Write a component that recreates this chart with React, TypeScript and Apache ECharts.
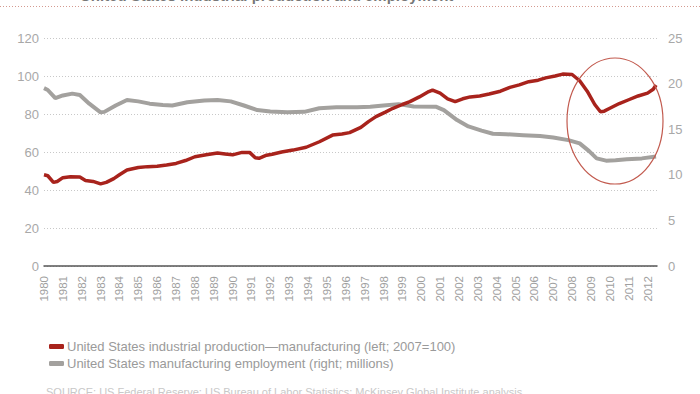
import React, { useEffect, useRef } from "react";
import * as echarts from "echarts";

// Industrial production — manufacturing (left axis, 2007 = 100)
const ipYears = [
  1980.0, 1980.2, 1980.5, 1980.7, 1981.0, 1981.4, 1981.9, 1982.2, 1982.6, 1983.0,
  1983.3, 1983.7, 1984.0, 1984.4, 1985.0, 1985.5, 1986.0, 1986.5, 1987.0, 1987.5,
  1988.0, 1988.6, 1989.2, 1989.6, 1990.0, 1990.5, 1990.9, 1991.2, 1991.4, 1991.8,
  1992.1, 1992.6, 1993.2, 1993.9, 1994.6, 1995.3, 1995.8, 1996.2, 1996.8, 1997.2,
  1997.6, 1998.1, 1998.5, 1999.0, 1999.4, 1999.9, 2000.4, 2000.6, 2001.0, 2001.4,
  2001.8, 2002.2, 2002.6, 2003.1, 2003.6, 2004.2, 2004.7, 2005.2, 2005.7, 2006.2,
  2006.6, 2007.1, 2007.5, 2008.0, 2008.4, 2008.8, 2009.2, 2009.5, 2009.7, 2010.0,
  2010.5, 2011.0, 2011.5, 2012.0, 2012.3, 2012.45,
];
const ipValues = [
  48, 47.5, 44, 44.5, 46.5, 47, 46.8, 45, 44.5, 43.2,
  44, 46, 48, 50.5, 51.8, 52.3, 52.5, 53.2, 54, 55.5,
  57.5, 58.5, 59.5, 59, 58.5, 59.8, 59.8, 57, 56.7, 58.3,
  58.8, 60, 61, 62.5, 65.4, 68.9, 69.5, 70.2, 73, 76,
  78.6, 81, 83, 85, 86.5, 89, 91.8, 92.6, 91, 88,
  86.5, 88, 89, 89.5, 90.5, 92, 94, 95.3, 97, 97.8,
  99, 100, 101, 100.8, 97.5, 92, 85, 81.2, 81.5, 83,
  85.5, 87.5, 89.5, 91, 93, 95.3,
];

// Manufacturing employment (right axis, millions)
const empYears = [
  1980.0, 1980.2, 1980.6, 1981.0, 1981.5, 1981.9, 1982.4, 1983.0, 1983.2, 1983.8,
  1984.4, 1985.0, 1985.6, 1986.3, 1986.8, 1987.6, 1988.5, 1989.2, 1989.9, 1990.6,
  1991.3, 1992.0, 1992.9, 1993.8, 1994.6, 1995.5, 1996.6, 1997.3, 1998.0, 1998.8,
  1999.6, 2000.8, 2001.2, 2001.9, 2002.5, 2003.2, 2003.8, 2004.5, 2005.4, 2006.3,
  2007.0, 2007.8, 2008.4, 2008.9, 2009.3, 2009.8, 2010.3, 2010.9, 2011.7, 2012.45,
];
const empValues = [
  19.5, 19.3, 18.4, 18.7, 18.9, 18.75, 17.8, 16.85, 16.9, 17.6,
  18.2, 18.05, 17.8, 17.65, 17.6, 17.95, 18.15, 18.2, 18.05, 17.6,
  17.1, 16.95, 16.85, 16.9, 17.3, 17.4, 17.4, 17.45, 17.6, 17.75,
  17.5, 17.45, 17.1, 16.0, 15.3, 14.85, 14.5, 14.45, 14.35, 14.25,
  14.1, 13.8, 13.45, 12.6, 11.8, 11.55, 11.6, 11.7, 11.8, 12.0,
];

const title = "United States industrial production and employment";
const ipName = "United States industrial production\u2014manufacturing (left; 2007=100)";
const empName = "United States manufacturing employment (right; millions)";
const sourceText = "SOURCE: US Federal Reserve; US Bureau of Labor Statistics; McKinsey Global Institute analysis";

const FONT = "'Liberation Sans', Arial, Helvetica, sans-serif";

export default function App() {
  const ref = useRef<HTMLDivElement>(null);

  useEffect(() => {
    if (!ref.current) return;
    const chart = echarts.init(ref.current, null, { renderer: "svg" });
    chart.setOption({
      animation: false,
      backgroundColor: "#ffffff",
      textStyle: { fontFamily: FONT },
      grid: { left: 44, right: 43, top: 38, bottom: 128, containLabel: false },
      xAxis: {
        type: "value",
        min: 1980,
        max: 2012.5,
        interval: 1,
        axisLine: { show: true, onZero: false, lineStyle: { color: "#555555", width: 1.5 } },
        axisTick: { show: false },
        splitLine: { show: false },
        axisLabel: {
          rotate: 90,
          margin: 10,
          color: "#a0a0a0",
          fontSize: 11.5,
          fontFamily: FONT,
          formatter: (v: number) => (Number.isInteger(v) ? String(v) : ""),
        },
      },
      yAxis: [
        {
          type: "value",
          min: 0,
          max: 120,
          interval: 20,
          axisLine: { show: false },
          axisTick: { show: false },
          axisLabel: { color: "#a8a8a8", fontSize: 13, margin: 5, fontFamily: FONT },
          splitLine: { show: true, lineStyle: { color: "#c8c8c8", type: [1, 2], width: 1 } },
        },
        {
          type: "value",
          min: 0,
          max: 25,
          interval: 5,
          position: "right",
          axisLine: { show: false },
          axisTick: { show: false },
          axisLabel: { color: "#a8a8a8", fontSize: 13, margin: 11, fontFamily: FONT },
          splitLine: { show: false },
        },
      ],
      legend: {
        orient: "vertical",
        left: 44,
        top: 335,
        itemWidth: 15,
        itemHeight: 5,
        itemGap: 4,
        icon: "roundRect",
        textStyle: { color: "#9a9a9a", fontSize: 13, fontFamily: FONT, padding: [0, 0, 0, -2] },
        data: [ipName, empName],
      },
      series: [
        {
          name: empName,
          type: "line",
          yAxisIndex: 1,
          showSymbol: false,
          smooth: false,
          color: "#a3a19e",
          lineStyle: { color: "#a3a19e", width: 4 },
          data: empYears.map((y, i) => [y, empValues[i]]),
          z: 2,
        },
        {
          name: ipName,
          type: "line",
          yAxisIndex: 0,
          showSymbol: false,
          smooth: false,
          color: "#a8231c",
          lineStyle: { color: "#a8231c", width: 3.5 },
          data: ipYears.map((y, i) => [y, ipValues[i]]),
          z: 3,
        },
      ],
      graphic: [
        {
          type: "text",
          left: 80,
          top: -12,
          style: { text: title, fill: "#777777", font: `bold 15px ${FONT}` },
        },
        {
          type: "line",
          shape: { x1: 0, y1: 6.5, x2: 700, y2: 6.5 },
          style: { stroke: "#d49a90", lineWidth: 1, lineDash: [1, 2] },
        },
        {
          type: "ellipse",
          shape: { cx: 615, cy: 121, rx: 48, ry: 63 },
          style: { fill: "none", stroke: "#c25a4e", lineWidth: 1.2 },
          z: 10,
        },
        {
          type: "text",
          left: 46,
          top: 386,
          style: { text: sourceText, fill: "#c8c8c8", font: `11px ${FONT}` },
        },
      ],
    });
    return () => chart.dispose();
  }, []);

  return (
    <div
      ref={ref}
      style={{ position: "absolute", left: 0, top: 0, width: 700, height: 394 }}
    />
  );
}
